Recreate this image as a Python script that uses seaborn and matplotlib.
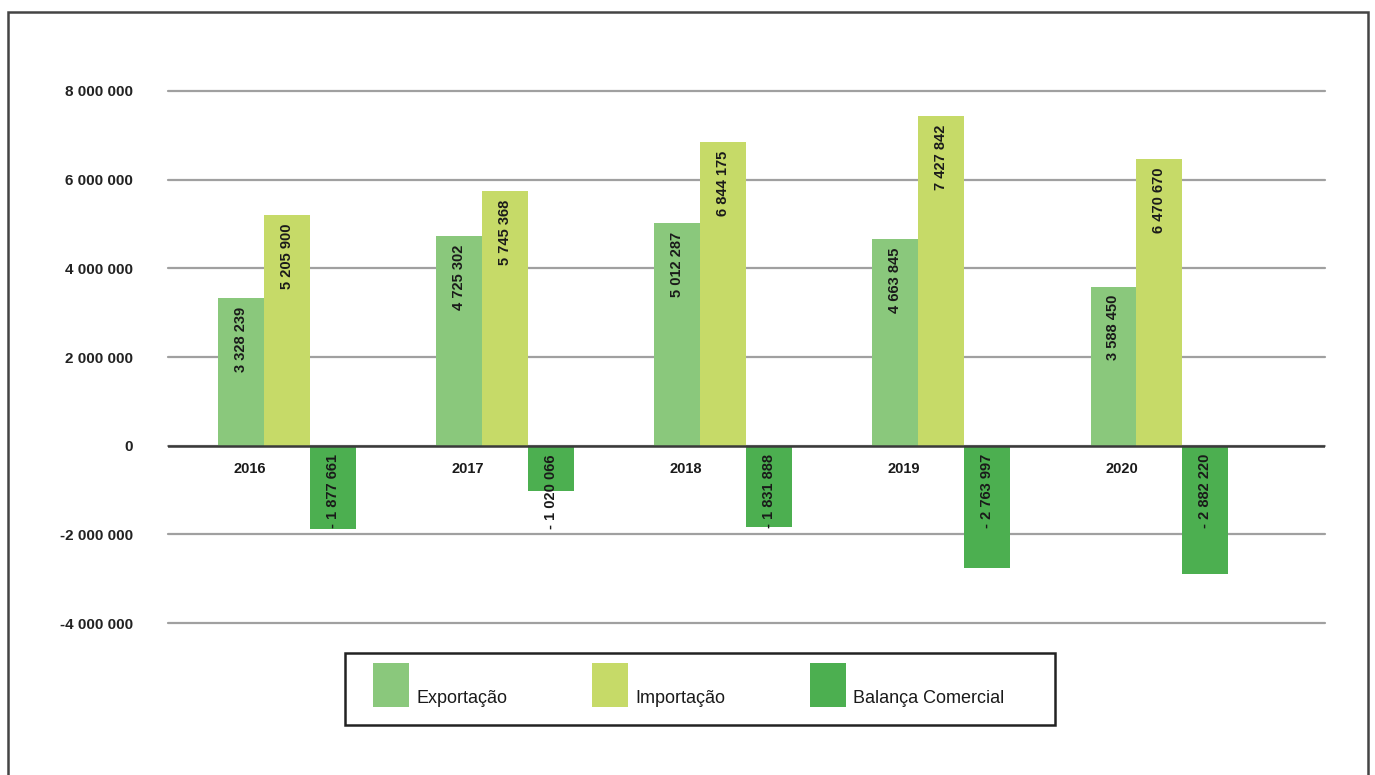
import numpy as np
import pandas as pd
import seaborn as sns
import matplotlib.pyplot as plt
from matplotlib.patches import Rectangle, Patch
from matplotlib.legend_handler import HandlerPatch

anos = ['2016', '2017', '2018', '2019', '2020']
series = ['Exportação', 'Importação', 'Balança Comercial']
exportacao = [3328239, 4725302, 5012287, 4663845, 3588450]
importacao = [5205900, 5745368, 6844175, 7427842, 6470670]
balanca = [-1877661, -1020066, -1831888, -2763997, -2882220]
yticks = [-4000000, -2000000, 0, 2000000, 4000000, 6000000, 8000000]
cores = ['#8ac87c', '#c6da68', '#4caf50']


def fmt(v):
    s = f"{abs(int(v)):,}".replace(',', ' ')
    return ('- ' + s) if v < 0 else s


class BlocoLegenda(HandlerPatch):
    # quadrado alto com a base na linha do texto, como no original
    def create_artists(self, legend, orig_handle, xdescent, ydescent,
                       width, height, fontsize, trans):
        r = Rectangle((-xdescent, -3), width, 31.5,
                      facecolor=orig_handle.get_facecolor(), edgecolor='none',
                      transform=trans)
        return [r]


df = pd.DataFrame({
    'Ano': anos * 3,
    'Série': [series[0]] * 5 + [series[1]] * 5 + [series[2]] * 5,
    'Valor': exportacao + importacao + balanca,
})

sns.set_style('white')
plt.rcParams['font.family'] = ['Liberation Sans Narrow', 'Liberation Sans', 'DejaVu Sans']

fig = plt.figure(figsize=(13.75, 7.75), dpi=100)
ax = fig.add_axes([0.122, 0.196, 0.8416, 0.6866])

sns.barplot(data=df, x='Ano', y='Valor', hue='Série', palette=cores,
            width=0.63, saturation=1, gap=0, legend=False, ax=ax,
            edgecolor='none', zorder=3)

ax.set_ylim(-4000000, 8000000)
ax.set_xlim(-0.546, 4.76)
ax.set_yticks(yticks)
ax.set_yticklabels([f"{v:,}".replace(',', ' ') for v in yticks],
                   fontsize=11, fontweight='bold', color='#222222')
ax.tick_params(axis='y', length=0, pad=25)
ax.set_xticks([])
ax.set_xlabel('')
ax.set_ylabel('')
for sp in ax.spines.values():
    sp.set_visible(False)
ax.yaxis.grid(True, color='#a0a0a0', linewidth=1.6, zorder=0)
for gl in ax.get_ygridlines():
    gl.set_clip_on(False)
ax.axhline(0, color='#3a3a3a', linewidth=1.8, zorder=4)

# rotulos dos valores
for cont in ax.containers:
    for rect in cont:
        v = rect.get_height()
        x = rect.get_x() + rect.get_width() / 2
        top = max(v, 0)
        ax.annotate(fmt(v), (x, top), xytext=(0, -6), textcoords='offset points',
                    rotation=90, ha='center', va='top', fontsize=10.5,
                    fontweight='bold', color='#1a1a1a', zorder=5)

# anos logo abaixo da linha zero
for i, a in enumerate(anos):
    ax.annotate(a, (i - 0.17, 0), xytext=(0, -17), textcoords='offset points',
                ha='center', va='center', fontsize=10.5, fontweight='bold',
                color='#1a1a1a')

# caixa da legenda
fig.patches.append(Rectangle((345 / 1375, 1 - 725 / 775), 710 / 1375, 72 / 775,
                             transform=fig.transFigure, fill=False,
                             edgecolor='#222222', linewidth=1.8))
handles = [Patch(facecolor=c) for c in cores]
leg = fig.legend(handles, series, loc='center left', ncol=3,
                 bbox_to_anchor=(373 / 1375, 1 - 698 / 775),
                 handler_map={Patch: BlocoLegenda()},
                 prop={'size': 13}, handlelength=2.0, handleheight=3.67,
                 handletextpad=0.39, columnspacing=4.7,
                 borderaxespad=0, borderpad=0, frameon=False)
for t in leg.get_texts():
    t.set_color('#1a1a1a')

# moldura da figura
fig.patches.append(Rectangle((8 / 1375, -0.01), 1360 / 1375, 1 - 12 / 775 + 0.01,
                             transform=fig.transFigure, fill=False,
                             edgecolor='#444444', linewidth=1.8))

fig.savefig('out.png', dpi=100)
